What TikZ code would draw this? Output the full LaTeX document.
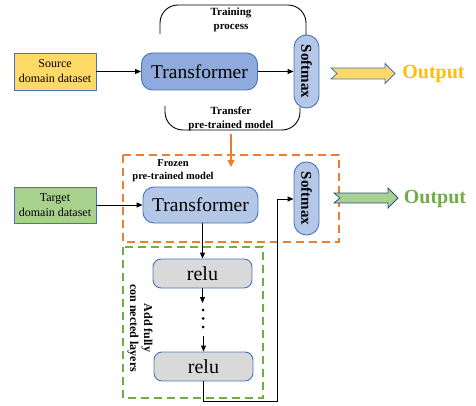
\documentclass[tikz,border=0pt]{standalone}
\usepackage{fontspec}
\setmainfont{Liberation Serif}
\usetikzlibrary{arrows.meta}
\definecolor{bord}{HTML}{4472C4}
\definecolor{gold}{HTML}{FFD966}
\definecolor{goldtxt}{HTML}{FFC000}
\definecolor{lgreen}{HTML}{A9D18E}
\definecolor{dgreen}{HTML}{70AD47}
\definecolor{tblue}{HTML}{8FAADC}
\definecolor{lblue}{HTML}{B4C7E7}
\definecolor{orng}{HTML}{ED7D31}
\definecolor{lgray}{HTML}{D9D9D9}
\tikzset{
  databox/.style={draw=bord,line width=0.9pt,minimum width=82pt,minimum height=37pt,inner sep=0pt,align=center,font=\fontsize{12}{15}\selectfont},
  tfbox/.style={draw=bord,line width=0.9pt,rounded corners=11pt,minimum width=116pt,minimum height=37pt,inner sep=0pt,font=\fontsize{19.5}{22}\selectfont},
  smbox/.style={draw=bord,fill=lblue,line width=0.9pt,rounded corners=12.4pt,minimum width=25pt,minimum height=73pt,inner sep=0pt},
  smtext/.style={rotate=-90,font=\fontsize{15}{17}\bfseries\selectfont},
  relubox/.style={draw=bord,fill=lgray,line width=0.9pt,rounded corners=8pt,minimum width=99pt,minimum height=29pt,inner sep=0pt,font=\fontsize{20}{22}\selectfont},
  lbl/.style={align=center,font=\fontsize{11}{14}\bfseries\selectfont,inner sep=0pt},
  conn/.style={line width=0.9pt,-{Triangle[length=6pt,width=5pt]}},
  outtxt/.style={font=\fontsize{20}{22}\bfseries\selectfont,inner sep=0pt},
}
\begin{document}
\begin{tikzpicture}[x=1pt,y=-1pt]
\useasboundingbox (0,0) rectangle (476,406);
% top row
\node[databox,fill=gold] (src) at (55,71.5) {Source\\domain dataset};
\node[tfbox,fill=tblue] (tf1) at (199.5,71.5) {Transformer};
\node[smbox] (sm1) at (306.5,71.5) {};
\node[smtext] at (sm1.center) {Softmax};
\draw[conn] (src.east) -- (tf1.west);
\draw[conn] (tf1.east) -- (sm1.west);
% brackets
\draw[line width=0.9pt,rounded corners=18pt] (160,34) -- (160,5) -- (306,5) -- (306,35);
\draw[line width=0.9pt,rounded corners=18pt] (165,106) -- (165,130) -- (300,130) -- (300,107);
\node[lbl] (tp) at (231,20) {Training\\process};
\node[lbl] (tr) at (231,119) {Transfer\\pre-trained model};
% yellow output arrow
\draw[draw=bord,fill=gold,line width=0.8pt] (331,68) -- (385,68) -- (385,63.5) -- (395,73.5) -- (385,83.5) -- (385,79) -- (331,79) -- (337,73.5) -- cycle;
\node[outtxt,text=goldtxt] (out1) at (433.5,74) {Output};
% orange transfer arrow
\coordinate (ostart) at (231,134);
\coordinate (oend) at (231,167);
\draw[orng,line width=1.3pt,-{Triangle[length=7pt,width=7pt]}] (ostart) -- (oend);
% orange dashed box
\draw[orng,line width=1.3pt,dash pattern=on 8pt off 5pt] (123,155) rectangle (339,242);
\node[lbl,font=\fontsize{10.5}{13}\bfseries\selectfont] (fr) at (173,171) {Frozen\\pre-trained model};
% second row
\node[databox,fill=lgreen,minimum height=36pt] (tgt) at (55,205) {Target\\domain dataset};
\node[tfbox,fill=lblue,minimum width=115pt,minimum height=36pt] (tf2) at (200.5,205) {Transformer};
\node[smbox] (sm2) at (306.5,198.5) {};
\node[smtext] at (sm2.center) {Softmax};
\draw[conn] (tgt.east) -- (tf2.west);
% green output arrow
\draw[draw=bord!70!black,fill=lgreen,line width=0.8pt] (334,193) -- (388,193) -- (388,188) -- (398,198) -- (388,208) -- (388,203) -- (334,203) -- (340,198) -- cycle;
\node[outtxt,text=dgreen] (out2) at (435,199) {Output};
% green dashed box
\draw[dgreen,line width=1.3pt,dash pattern=on 8pt off 5pt] (123,247) rectangle (263,398);
\node[relubox] (r1) at (202.5,273.5) {relu};
\node[relubox] (r2) at (203.5,366.5) {relu};
\node[align=center,rotate=-90,inner sep=0pt,font=\fontsize{12}{14}\bfseries\selectfont] (add) at (140,328) {Add fully\\con nected layers};
\draw[conn] (tf2.south -| r1.north) -- (r1.north);
\coordinate (d1) at (202.5,303);
\coordinate (d2) at (203.5,336);
\draw[conn] (r1.south) -- (d1);
\fill (203,310) circle (1.5pt) (203,318.5) circle (1.5pt) (203,327) circle (1.5pt);
\draw[conn] (d2) -- (r2.north);
\coordinate (c1) at (203.5,401);
\coordinate (c2) at (277,401);
\coordinate (c3) at (277,199);
\draw[conn] (r2.south) -- (c1) -- (c2) -- (c3) -- (c3 -| sm2.west);
\end{tikzpicture}
\end{document}
